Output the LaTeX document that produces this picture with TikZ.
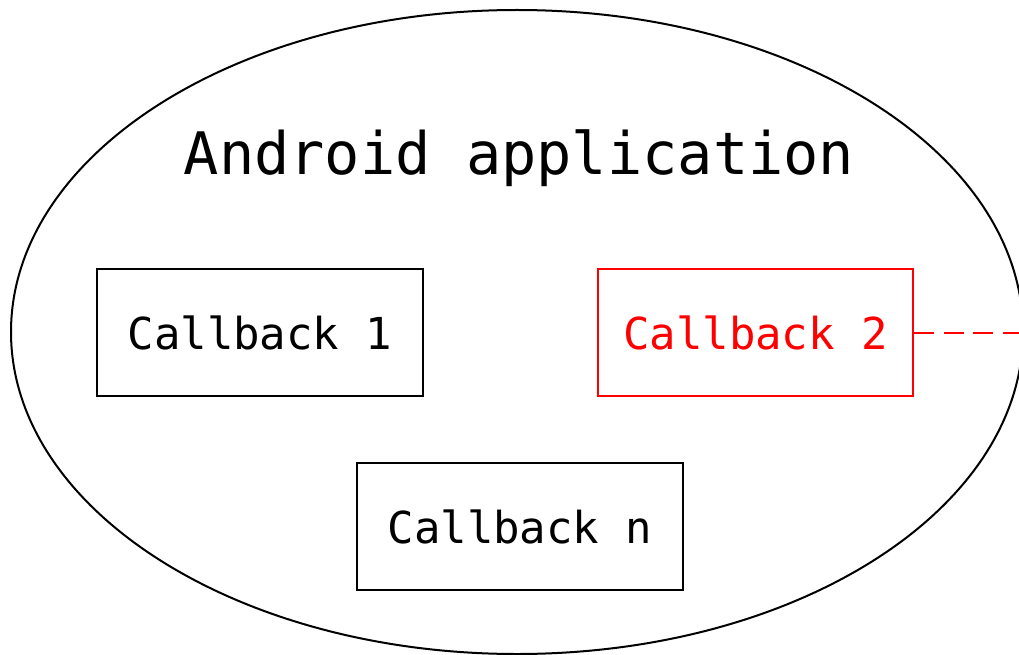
\documentclass[tikz,border=0pt]{standalone}
\usepackage{fontspec}
\newfontfamily\monofont{DejaVu Sans Mono}
\usetikzlibrary{shapes.geometric}
\begin{document}
\begin{tikzpicture}[x=1pt,y=-1pt,
  cbbox/.style={draw, line width=2pt, minimum width=326pt, minimum height=127pt, inner sep=0pt, font=\monofont\fontsize{44}{50}\selectfont},
  appshape/.style={draw, ellipse, line width=2pt, minimum width=1012pt, minimum height=644pt, inner sep=0pt}]
\useasboundingbox (0,0) rectangle (1019,655);
\clip (0,0) rectangle (1019,655);
\node[appshape] (app) at (517,332) {};
\node[font=\monofont\fontsize{58.6}{64}\selectfont] (title) at (519,158) {Android application};
\node[cbbox] (cb1) at (260,332.5) {Callback 1};
\node[cbbox, draw=red, text=red, minimum width=315pt] (cb2) at (755.5,332.5) {Callback 2};
\node[cbbox] (cbn) at (520,526.5) {Callback n};
\coordinate (out) at (1030,332.5);
\draw[red, line width=2pt, dash pattern=on 20pt off 9.5pt] (cb2.east) -- (out);
\end{tikzpicture}
\end{document}
